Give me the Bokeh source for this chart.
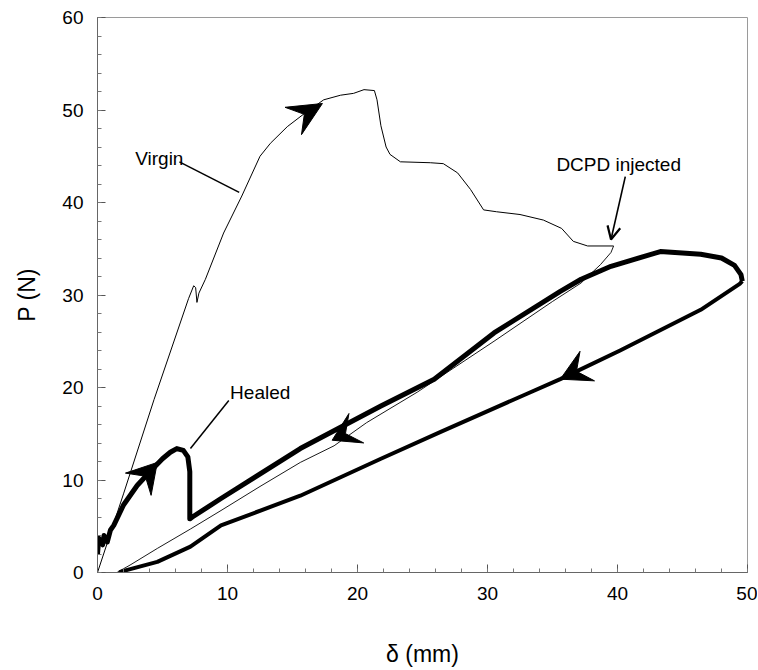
import math
from bokeh.plotting import figure
from bokeh.models import SingleIntervalTicker, Arrow, OpenHead, Label
from bokeh.embed import file_html
from bokeh.resources import INLINE

# ---------------- data ----------------
virgin_load_x = [0, 2.0, 4.35, 7.0, 7.4, 7.55, 7.65, 7.8, 8.3, 9.7, 11.1, 12.5, 13.3, 14.6, 15.9,
                 17.4, 18.7, 19.7, 20.5, 21.3, 21.5, 21.8, 22.2, 22.5, 23.3, 25.6, 26.6, 27.7,
                 28.7, 29.7, 30.7, 32.5, 34.3, 35.7, 36.6, 37.7, 39.7]
virgin_load_y = [0, 8.5, 18.7, 29.6, 31.0, 30.8, 29.2, 30.2, 31.7, 36.7, 40.7, 45.0, 46.4, 48.2, 49.6,
                 51.1, 51.6, 51.8, 52.2, 52.1, 51.1, 48.3, 46.0, 45.2, 44.4, 44.3, 44.2, 43.2,
                 41.4, 39.2, 39.0, 38.7, 38.1, 37.2, 35.8, 35.3, 35.3]
virgin_unload_x = [39.7, 39.5, 38.7, 37.2, 35.0, 30.5, 24.6, 20.7, 18.2, 15.6, 12.5, 9.5, 7.15,
                   4.6, 2.5, 1.8, 1.5]
virgin_unload_y = [35.3, 34.6, 33.3, 31.3, 29.3, 25.0, 19.5, 16.2, 13.7, 11.9, 9.3, 6.7, 4.7,
                   2.6, 0.8, 0.25, 0.0]

healed_load_x = [0, 0.1, 0.4, 0.5, 0.75, 1.0, 1.25, 2.0, 3.05, 4.1, 5.0, 5.6, 6.1, 6.6, 6.95,
                 7.1, 7.1, 7.3, 9.5, 15.6, 21.8, 25.9, 30.5, 35.6, 37.2, 39.5, 43.3, 46.4,
                 48.0, 49.0, 49.5, 49.6]
healed_load_y = [2.0, 3.7, 3.0, 4.0, 3.3, 4.6, 5.1, 7.3, 9.4, 11.0, 12.3, 13.0, 13.4, 13.2, 12.5,
                 10.9, 5.8, 6.0, 8.0, 13.4, 18.0, 20.9, 25.9, 30.4, 31.7, 33.1, 34.7, 34.4,
                 34.0, 33.2, 32.2, 31.5]
healed_unload_x = [49.6, 49.4, 46.4, 40.2, 35.6, 33.0, 26.4, 21.8, 15.6, 9.5, 7.15, 4.6, 1.8, 1.7]
healed_unload_y = [31.5, 31.2, 28.4, 24.0, 20.9, 19.3, 15.2, 12.3, 8.3, 5.1, 2.8, 1.15, 0.1, 0.0]

# arrowheads on the curves: tip position and screen direction (deg)
arrow_tip_x = [17.3, 4.6, 18.05, 35.6]
arrow_tip_y = [50.7, 11.9, 14.3, 20.9]
arrow_angle = [31, 49, 206.5, 206]

x_ticks_interval = 10
y_ticks_interval = 10

# ---------------- figure ----------------
W, H = 757, 669
FRAME_L, FRAME_R, FRAME_T, FRAME_B = 97, 747, 17, 574
XMIN, XMAX, YMIN, YMAX = 0, 50, 0, 60
FONT = "Liberation Sans"

p = figure(width=W, height=H, x_range=(XMIN, XMAX), y_range=(YMIN, YMAX),
           output_backend="svg", toolbar_location=None,
           min_border_left=FRAME_L, min_border_right=W - FRAME_R,
           min_border_top=FRAME_T, min_border_bottom=H - FRAME_B)
p.grid.visible = False
p.background_fill_color = "white"
p.border_fill_color = "white"
p.outline_line_color = "#9a9a9a"
p.outline_line_width = 1

for ax, interval in ((p.xaxis[0], x_ticks_interval), (p.yaxis[0], y_ticks_interval)):
    ax.ticker = SingleIntervalTicker(interval=interval, num_minor_ticks=5)
    ax.major_tick_in = 8
    ax.major_tick_out = 0
    ax.minor_tick_in = 4
    ax.minor_tick_out = 0
    ax.axis_line_color = "#666666"
    ax.major_tick_line_color = "#555555"
    ax.minor_tick_line_color = "#777777"
    ax.major_label_text_font = FONT
    ax.major_label_text_font_size = "19px"
    ax.major_label_text_color = "black"
    ax.axis_label_text_font = FONT
    ax.axis_label_text_font_style = "normal"
    ax.axis_label_text_font_size = "23px"
    ax.axis_label_text_color = "black"

p.xaxis.axis_label = "δ (mm)"
p.yaxis.axis_label = "P (N)"
p.xaxis.major_label_standoff = 14
p.yaxis.major_label_standoff = 14
p.xaxis.axis_label_standoff = 38
p.yaxis.axis_label_standoff = 19

# curves
p.line(virgin_load_x, virgin_load_y, line_color="black", line_width=1.0)
p.line(virgin_unload_x, virgin_unload_y, line_color="black", line_width=0.9)
p.line(healed_load_x, healed_load_y, line_color="black", line_width=5, line_join="round")
p.line(healed_unload_x, healed_unload_y, line_color="black", line_width=4, line_join="round")

# stealth arrowheads computed in screen pixels, converted to data units
sx = (FRAME_R - FRAME_L) / (XMAX - XMIN)
sy = (FRAME_B - FRAME_T) / (YMAX - YMIN)
head_len = [34, 29, 27, 30]
head_half = [16, 17, 16.5, 16.5]
head_notch = [0.62, 0.63, 0.55, 0.6]
xs, ys = [], []
for tx, ty, ang, L, Wd, nf in zip(arrow_tip_x, arrow_tip_y, arrow_angle, head_len, head_half, head_notch):
    a = math.radians(ang)
    ux, uy = math.cos(a), math.sin(a)
    px_, py_ = -uy, ux
    pts = [(0, 0),
           (-L * ux + Wd * px_, -L * uy + Wd * py_),
           (-nf * L * ux, -nf * L * uy),
           (-L * ux - Wd * px_, -L * uy - Wd * py_)]
    xs.append([tx + dx / sx for dx, dy in pts])
    ys.append([ty + dy / sy for dx, dy in pts])
p.patches(xs, ys, fill_color="black", line_color="black", line_width=1)

# leader lines
p.line([6.3, 10.9], [44.4, 41.1], line_color="black", line_width=1.5)
p.line([10.1, 7.15], [18.6, 13.4], line_color="black", line_width=1.5)
p.add_layout(Arrow(end=OpenHead(size=13, line_width=2.2, line_color="black"),
                   x_start=40.6, y_start=42.8, x_end=39.5, y_end=36.0,
                   line_width=1.6, line_color="black"))

# text labels
for txt, x, y in (("Virgin", 2.9, 44.8), ("Healed", 10.2, 19.5), ("DCPD injected", 35.3, 44.1)):
    p.add_layout(Label(x=x, y=y, text=txt, text_font=FONT, text_font_size="19px",
                       text_color="black", text_baseline="alphabetic"))

open("out.html", "w").write(file_html(p, INLINE))
